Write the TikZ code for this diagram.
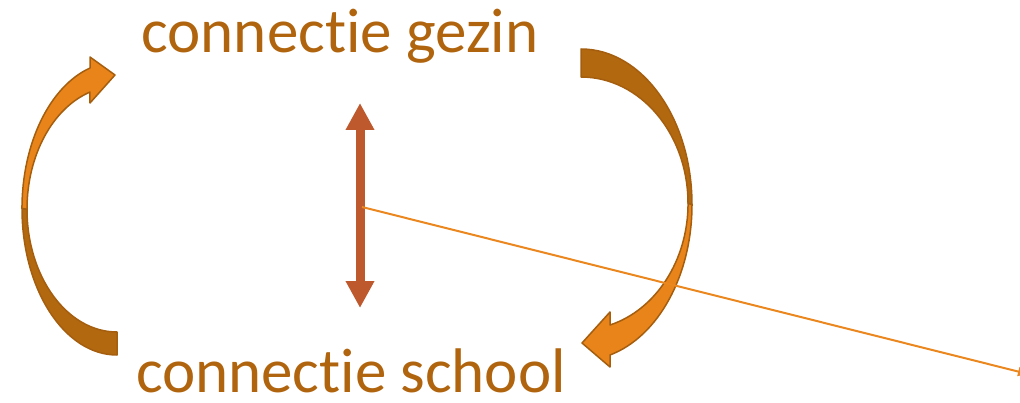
\documentclass[tikz,border=0pt]{standalone}
\usepackage{fontspec}
\setmainfont{Carlito}[Ligatures={NoCommon,NoContextual}]
\usetikzlibrary{positioning,arrows.meta}

\definecolor{labelbrown}{RGB}{176,100,14}
\definecolor{arrowlight}{RGB}{232,132,26}
\definecolor{arrowdark}{RGB}{178,104,15}
\definecolor{arrowline}{RGB}{165,94,14}
\definecolor{vertarrow}{RGB}{190,88,45}
\definecolor{thinorange}{RGB}{234,135,30}

\tikzset{
	arrowbody/.style={draw=arrowline,line width=1.5pt,line join=round},
	dblarrow/.style={draw=vertarrow,line width=9pt,{Triangle[length=27pt,width=27pt]}-{Triangle[length=27pt,width=27pt]}},
	thinline/.style={draw=thinorange,line width=2pt,-{Triangle[length=10pt,width=9pt]}}
}

\begin{document}
\begin{tikzpicture}[x=1pt,y=1pt]
	\useasboundingbox (0,0) rectangle (1020,402);
	\clip (0,0) rectangle (1020,402);
	\begin{scope}[every node/.style={text=labelbrown,inner sep=0pt,anchor=base,font=\fontsize{63}{70}\selectfont}]
		\node (gezin) at (340,349) {connect\kern0pt ie gezin};
		\node (school) at (351,10) {connect\kern0pt ie school};
	\end{scope}
	% left arrow, school -> gezin
	\filldraw[arrowbody,fill=arrowdark] (22,193.5) arc[start angle=180,end angle=270,x radius=95,y radius=146.5]
		-- (117,70) arc[start angle=270,end angle=180,x radius=90,y radius=122.8] -- cycle;
	\filldraw[arrowbody,fill=arrowlight] (90,334) arc[start angle=106.5,end angle=180,x radius=95,y radius=146.5]
		-- (27,192.8) arc[start angle=180,end angle=107.5,x radius=90,y radius=122.8]
		-- (90,299) -- (115,327) -- (90,345) -- cycle;
	% right arrow, gezin -> school
	\filldraw[arrowbody,fill=arrowdark] (581,353) arc[start angle=90,end angle=0,x radius=111,y radius=155.7]
		-- (688,198.6) arc[start angle=0,end angle=90,x radius=107,y radius=126.4] -- cycle;
	\filldraw[arrowbody,fill=arrowlight] (692,197.3) arc[start angle=0,end angle=-74.85,x radius=111,y radius=155.7]
		-- (610,35) -- (582,59) -- (610,90) -- (610,77)
		arc[start angle=-74.3,end angle=0,x radius=107,y radius=126.4] -- cycle;
	% middle
	\coordinate (dtop) at (360,299);
	\coordinate (dbot) at (360,94);
	\coordinate (mid) at (362,195);
	\coordinate (offpage) at (1028,28);
	\draw[dblarrow] (dtop) -- (dbot);
	\draw[thinline] (mid) -- (offpage);
\end{tikzpicture}
\end{document}
